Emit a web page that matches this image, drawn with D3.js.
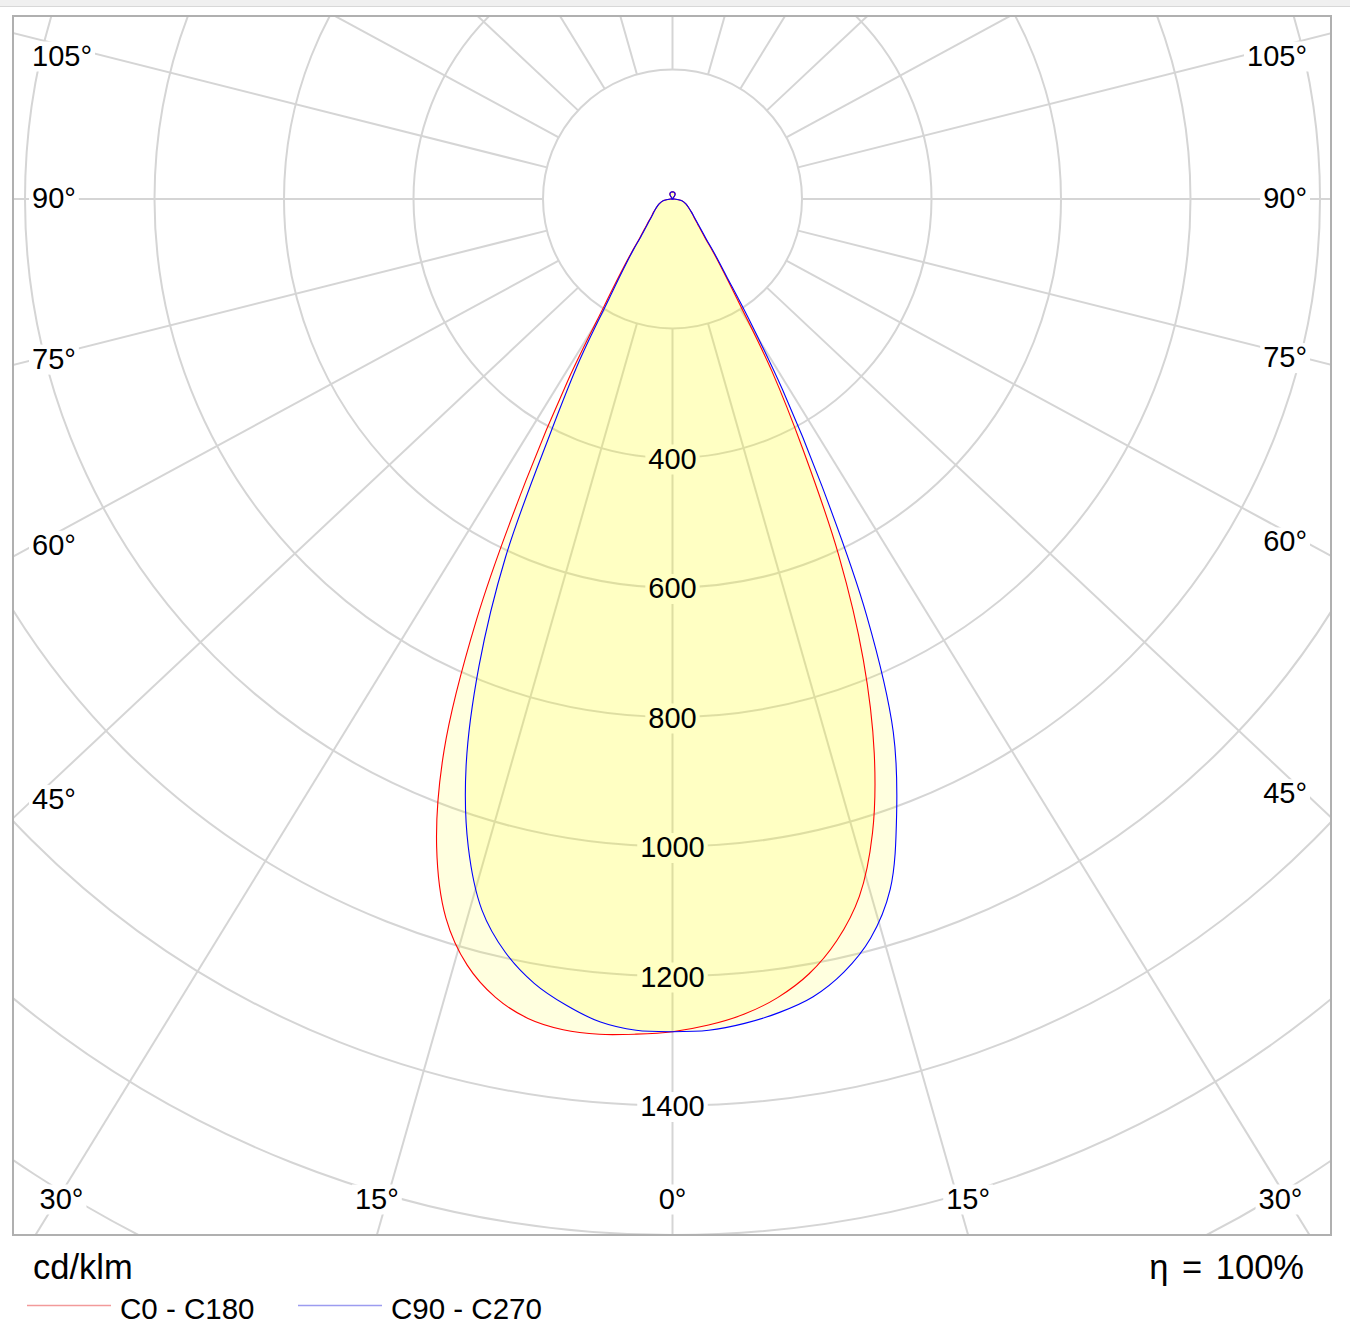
<!DOCTYPE html>
<html>
<head>
<meta charset="utf-8">
<script src="https://cdn.jsdelivr.net/npm/d3@7"></script>
<style>
  html, body { margin: 0; padding: 0; background: #ffffff; }
  svg { display: block; }
  text { font-family: "Liberation Sans", Arial, sans-serif; fill: #000; }
</style>
</head>
<body>
<svg id="chart" width="1350" height="1336"></svg>
<script>
// ---------------- DATA ----------------
// gamma angles (degrees from nadir)
const gammaAngles = [0, 2.5, 5, 7.5, 10, 12.5, 15, 17.5, 20, 22.5, 25, 27.5, 30, 32.5, 35, 37.5, 40, 45, 50, 55, 60, 70, 80, 90, 100, 140, 145, 150, 160, 170, 180];
// intensities in cd/klm
const c0Values   = [1286, 1277, 1264, 1244, 1215, 1173, 1115, 1027, 911, 770, 608, 437, 307, 195, 138, 103, 78, 55, 43, 36, 30, 22, 14, 3, 0, 0, 5, 8, 10, 10.8, 11];
const c180Values = [1286, 1291, 1295, 1294, 1285, 1263, 1225, 1164, 1065, 922, 715, 490, 321, 198, 140, 104, 79, 56, 43, 36, 30, 22, 14, 3, 0, 0, 5, 8, 10, 10.8, 11];
const c90Values  = [1286, 1285, 1278, 1267, 1251, 1223, 1182, 1118, 1012, 891, 709, 500, 339, 218, 145, 108, 82, 57, 44, 36, 30, 22, 14, 3, 0, 0, 5, 8, 10, 10.8, 11];
const c270Values = [1286, 1285, 1276, 1256, 1230, 1192, 1137, 1049, 932, 781, 610, 410, 285, 182, 132, 100, 76, 54, 42, 35, 30, 22, 14, 3, 0, 0, 5, 8, 10, 10.8, 11];

const gridCircleValues = [200, 400, 600, 800, 1000, 1200, 1400, 1600, 1800, 2000];
const radialTickLabels = [400, 600, 800, 1000, 1200, 1400];
const spokeAngles = d3.range(0, 360, 15);
const angleTickLabels = [0, 15, 30, 45, 60, 75, 90, 105];
const seriesNames = ["C0 - C180", "C90 - C270"];
const unitLabel = "cd/klm";
const efficiencyLabel = "\u03b7 = 100%";

// ---------------- LAYOUT ----------------
const cx = 672.5, cy = 199;
const frame = { x0: 13, y0: 16, x1: 1331, y1: 1235 };
const spokeStretch = 1.065;
const gridColor = "#d5d5d5";
const rScale = d3.scaleLinear().domain([0, 200]).range([0, 129.5]);

const svg = d3.select("#chart");
svg.append("rect").attr("x", 0).attr("y", 0).attr("width", 1350).attr("height", 1336).attr("fill", "#fff");
svg.append("rect").attr("x", 0).attr("y", 0).attr("width", 1350).attr("height", 6).attr("fill", "#f0f0f0");
svg.append("line").attr("x1", 0).attr("x2", 1350).attr("y1", 6.5).attr("y2", 6.5).attr("stroke", "#d8d8d8").attr("stroke-width", 1);

svg.append("defs").append("clipPath").attr("id", "frameClip")
  .append("rect").attr("x", frame.x0).attr("y", frame.y0)
  .attr("width", frame.x1 - frame.x0).attr("height", frame.y1 - frame.y0);

const gridG = svg.append("g").attr("clip-path", "url(#frameClip)");
const bgG = svg.append("g");
const fillG = svg.append("g");
const lineG = svg.append("g");
const textG = svg.append("g");

// circles
gridG.selectAll("circle.grid").data(gridCircleValues).join("circle")
  .attr("class", "grid")
  .attr("cx", cx).attr("cy", cy).attr("r", d => rScale(d))
  .attr("fill", "none").attr("stroke", gridColor).attr("stroke-width", 2);

function spokeDir(a) {
  const rad = a * Math.PI / 180;
  const ux = spokeStretch * Math.sin(rad), uy = Math.cos(rad);
  const n = Math.hypot(ux, uy);
  return [ux / n, uy / n];
}

gridG.selectAll("line.spoke").data(spokeAngles).join("line")
  .attr("class", "spoke")
  .each(function (a) {
    const [ux, uy] = spokeDir(a);
    const r0 = rScale(200), r1 = 3000;
    d3.select(this)
      .attr("x1", cx + r0 * ux).attr("y1", cy + r0 * uy)
      .attr("x2", cx + r1 * ux).attr("y2", cy + r1 * uy);
  })
  .attr("stroke", gridColor).attr("stroke-width", 2);

// ---------------- LABELS ----------------
const labelSpecs = [];
radialTickLabels.forEach(v => {
  labelSpecs.push({ text: String(v), x: cx, y: cy + rScale(v) + 10.5, anchor: "middle", size: 29 });
});
angleTickLabels.forEach(a => {
  const sides = a === 0 ? [1] : [-1, 1];
  sides.forEach(s => {
    const [ux0, uy] = spokeDir(a);
    const ux = ux0 * s;
    if (a <= 30) {
      const t = (frame.y1 - cy) / uy;
      let x = cx + t * ux;
      x = Math.max(cx - 611, Math.min(cx + 608, x));
      labelSpecs.push({ text: a + "\u00b0", x: x, y: 1198 + 10.5, anchor: "middle", size: 29 });
    } else {
      const xEdge = s < 0 ? 32 : 1307;
      const t = Math.abs((xEdge - cx) / ux);
      let y = cy + t * uy - 2;
      y = Math.max(55, Math.min(1198, y));
      labelSpecs.push({ text: a + "\u00b0", x: xEdge, y: y + 10.5, anchor: s < 0 ? "start" : "end", size: 29 });
    }
  });
});

const texts = textG.selectAll("text.lbl").data(labelSpecs).join("text")
  .attr("class", "lbl")
  .attr("x", d => d.x).attr("y", d => d.y)
  .attr("text-anchor", d => d.anchor)
  .attr("font-size", d => d.size)
  .text(d => d.text);

texts.each(function () {
  const b = this.getBBox();
  bgG.append("rect")
    .attr("x", b.x - 3).attr("y", b.y + 2)
    .attr("width", b.width + 6).attr("height", b.height - 2)
    .attr("fill", "#fff");
});

// ---------------- CURVES ----------------
function curvePoints(rightVals, leftVals) {
  const pts = [];
  const n = gammaAngles.length;
  for (let i = 0; i < n; i++) {
    const a = gammaAngles[i] * Math.PI / 180, rr = rScale(rightVals[i]);
    pts.push([cx + rr * Math.sin(a), cy + rr * Math.cos(a)]);
  }
  for (let i = n - 2; i >= 1; i--) {
    const a = gammaAngles[i] * Math.PI / 180, rr = rScale(leftVals[i]);
    pts.push([cx - rr * Math.sin(a), cy + rr * Math.cos(a)]);
  }
  return pts;
}

const lineGen = d3.line().curve(d3.curveCatmullRomClosed.alpha(0.5));
const series = [
  { name: seriesNames[0], pts: curvePoints(c0Values, c180Values), color: "#ff0000", legendColor: "#f29a9a" },
  { name: seriesNames[1], pts: curvePoints(c90Values, c270Values), color: "#0000ff", legendColor: "#9c9cf0" }
];

fillG.selectAll("path").data(series).join("path")
  .attr("d", d => lineGen(d.pts))
  .attr("fill", "rgba(255,255,0,0.125)")
  .attr("stroke", "none");

lineG.selectAll("path").data(series).join("path")
  .attr("d", d => lineGen(d.pts))
  .attr("fill", "none")
  .attr("stroke", d => d.color)
  .attr("stroke-width", 1.1);

// frame
svg.append("rect")
  .attr("x", frame.x0).attr("y", frame.y0)
  .attr("width", frame.x1 - frame.x0).attr("height", frame.y1 - frame.y0)
  .attr("fill", "none").attr("stroke", "#b0b0b0").attr("stroke-width", 2);

// ---------------- FOOTER ----------------
svg.append("text").attr("x", 33).attr("y", 1279).attr("font-size", 34.5).text(unitLabel);
svg.append("text").attr("x", 1304).attr("y", 1279).attr("font-size", 34.5).attr("text-anchor", "end")
  .attr("word-spacing", 4).text(efficiencyLabel);

const legendX = [27, 298];
series.forEach((s, i) => {
  svg.append("line")
    .attr("x1", legendX[i]).attr("x2", legendX[i] + 84)
    .attr("y1", 1305.5).attr("y2", 1305.5)
    .attr("stroke", s.legendColor).attr("stroke-width", 1.6);
  svg.append("text")
    .attr("x", legendX[i] + 93).attr("y", 1319)
    .attr("font-size", 29.5)
    .text(s.name);
});
</script>
</body>
</html>
